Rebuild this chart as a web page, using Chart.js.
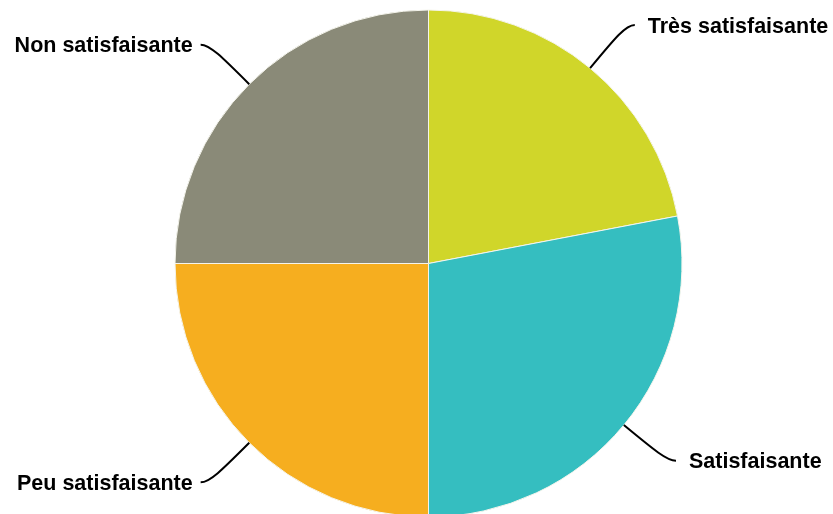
<!DOCTYPE html>
<html>
<head>
<meta charset="utf-8">
<script src="https://cdn.jsdelivr.net/npm/chart.js@4.4.0/dist/chart.umd.min.js"></script>
<style>
  html, body { margin: 0; padding: 0; background: #fff; overflow: hidden; }
  #wrap { position: relative; width: 833px; height: 530px; }
</style>
</head>
<body>
<div id="wrap"><canvas id="satisfactionChart"></canvas></div>
<script>
const categories = ['Très satisfaisante', 'Satisfaisante', 'Peu satisfaisante', 'Non satisfaisante'];
const shares = [22, 28, 25, 25];
const sliceColors = ['#d0d62a', '#35bec0', '#f6ae1f', '#8a8a78'];

// draws the outside labels with curved leader lines
const leaderLabels = {
    id: 'leaderLabels',
    afterDraw(chart) {
        const ctx = chart.ctx;
        const meta = chart.getDatasetMeta(0);
        ctx.save();
        ctx.font = 'bold 21.5px "Liberation Sans", Arial, sans-serif';
        ctx.strokeStyle = '#000';
        ctx.fillStyle = '#000';
        ctx.lineWidth = 2;
        meta.data.forEach(function(arc, i) {
            const mid = (arc.startAngle + arc.endAngle) / 2;
            const r = arc.outerRadius;
            const cos = Math.cos(mid), sin = Math.sin(mid);
            const side = cos >= 0 ? 1 : -1;
            const edge = { x: arc.x + cos * r, y: arc.y + sin * r };
            const elbow = { x: arc.x + cos * (r + 56), y: arc.y + sin * (r + 56) };
            const end = { x: elbow.x + side * 9, y: elbow.y };
            ctx.beginPath();
            ctx.moveTo(edge.x, edge.y);
            ctx.bezierCurveTo(
                arc.x + cos * (r + 40), arc.y + sin * (r + 40),
                elbow.x, elbow.y,
                end.x, end.y
            );
            ctx.stroke();
            ctx.textBaseline = 'alphabetic';
            if (side > 0) {
                ctx.textAlign = 'left';
                ctx.fillText(categories[i], end.x + 13, end.y + 7.5);
            } else {
                ctx.textAlign = 'right';
                ctx.fillText(categories[i], end.x - 8, end.y + 7.5);
            }
        });
        ctx.restore();
    }
};

document.addEventListener('DOMContentLoaded', function() {
    const ctx = document.getElementById('satisfactionChart').getContext('2d');
    new Chart(ctx, {
        type: 'pie',
        data: {
            labels: categories,
            datasets: [{
                data: shares,
                backgroundColor: sliceColors,
                borderColor: '#f4f4ec',
                borderWidth: 1
            }]
        },
        options: {
            responsive: true,
            maintainAspectRatio: false,
            animation: false,
            layout: {
                padding: { top: 9.5, bottom: 12.5, left: 24, right: 0 }
            },
            plugins: {
                legend: { display: false },
                tooltip: { enabled: false }
            }
        },
        plugins: [leaderLabels]
    });
});
</script>
</body>
</html>
